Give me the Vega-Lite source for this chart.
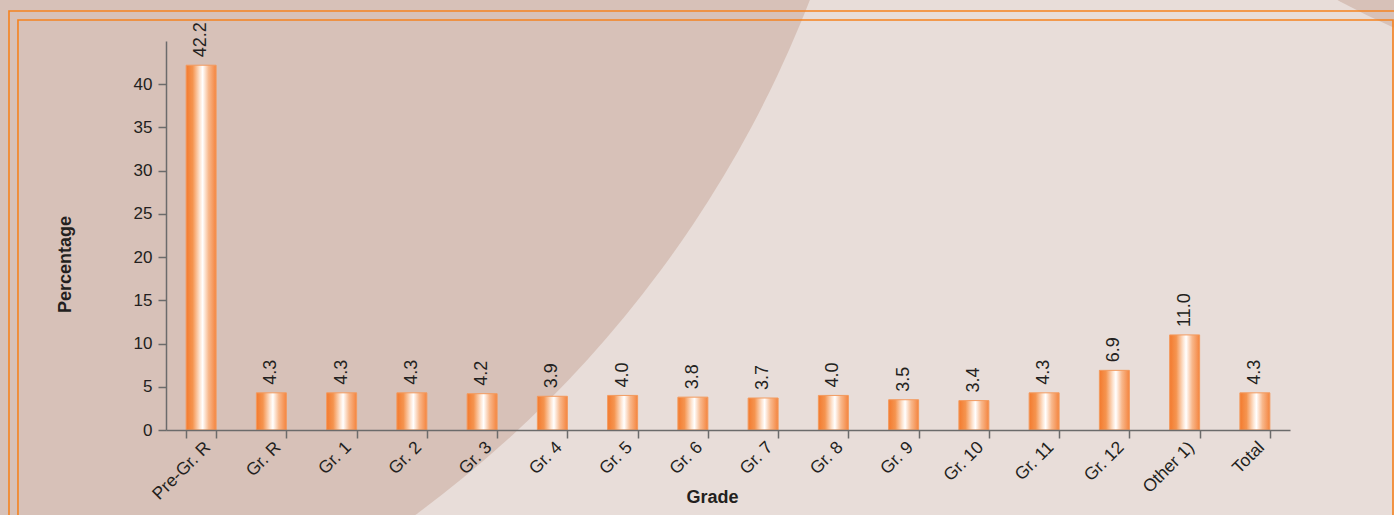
{
  "$schema": "https://vega.github.io/schema/vega-lite/v6.json",
  "autosize": {"type": "none"},
  "width": 1124,
  "height": 389,
  "padding": {"left": 166, "top": 41, "right": 104, "bottom": 85},
  "background": "#e8ddd9",
  "config": {
    "view": {"stroke": null},
    "font": "Liberation Sans",
    "axis": {
      "zindex": 1,
      "domainColor": "#6b6b6b",
      "domainWidth": 1.5,
      "tickColor": "#6b6b6b",
      "tickWidth": 1.5,
      "tickSize": 8,
      "labelFont": "Liberation Sans",
      "labelFontSize": 17,
      "labelColor": "#231f20",
      "titleFont": "Liberation Sans",
      "titleFontSize": 18,
      "titleFontWeight": "bold",
      "titleColor": "#231f20",
      "grid": false
    }
  },
  "resolve": {
    "scale": {"x": "independent", "y": "independent"},
    "axis": {"x": "independent", "y": "independent"}
  },
  "layer": [
    {
      "description": "Large backdrop disc on the left of the page",
      "data": {"values": [{}]},
      "mark": {"type": "point", "shape": "circle", "filled": true, "size": 5400000, "color": "#d7c1b8", "opacity": 1, "strokeWidth": 0},
      "encoding": {
        "x": {"datum": -6.25, "type": "quantitative", "scale": {"domain": [0, 16], "nice": false, "zero": false}, "axis": null},
        "y": {"datum": 98.45, "type": "quantitative", "scale": {"domain": [0, 45], "nice": false, "zero": false}, "axis": null}
      }
    },
    {
      "description": "Small backdrop disc in the top right corner",
      "data": {"values": [{}]},
      "mark": {"type": "point", "shape": "circle", "filled": true, "size": 2560000, "color": "#d7c1b8", "opacity": 1, "strokeWidth": 0},
      "encoding": {
        "x": {"datum": 22.08, "type": "quantitative", "scale": {"domain": [0, 16], "nice": false, "zero": false}, "axis": null},
        "y": {"datum": 131.2, "type": "quantitative", "scale": {"domain": [0, 45], "nice": false, "zero": false}, "axis": null}
      }
    },
    {
      "description": "Outer page frame",
      "data": {"values": [{}]},
      "mark": {"type": "rect", "fill": null, "fillOpacity": 0, "stroke": "#f5821f", "strokeWidth": 1.6},
      "encoding": {
        "x": {"datum": -2.235, "type": "quantitative", "scale": {"domain": [0, 16], "nice": false, "zero": false}, "axis": null},
        "x2": {"datum": 17.59},
        "y": {"datum": 48.47, "type": "quantitative", "scale": {"domain": [0, 45], "nice": false, "zero": false}, "axis": null},
        "y2": {"datum": -10.65}
      }
    },
    {
      "description": "Inner page frame",
      "data": {"values": [{}]},
      "mark": {"type": "rect", "fill": null, "fillOpacity": 0, "stroke": "#f5821f", "strokeWidth": 1.6},
      "encoding": {
        "x": {"datum": -2.107, "type": "quantitative", "scale": {"domain": [0, 16], "nice": false, "zero": false}, "axis": null},
        "x2": {"datum": 17.466},
        "y": {"datum": 47.43, "type": "quantitative", "scale": {"domain": [0, 45], "nice": false, "zero": false}, "axis": null},
        "y2": {"datum": -10.65}
      }
    },
    {
      "data": {
        "values": [
          {"grade": "Pre-Gr. R", "pct": 42.2},
          {"grade": "Gr. R", "pct": 4.3},
          {"grade": "Gr. 1", "pct": 4.3},
          {"grade": "Gr. 2", "pct": 4.3},
          {"grade": "Gr. 3", "pct": 4.2},
          {"grade": "Gr. 4", "pct": 3.9},
          {"grade": "Gr. 5", "pct": 4.0},
          {"grade": "Gr. 6", "pct": 3.8},
          {"grade": "Gr. 7", "pct": 3.7},
          {"grade": "Gr. 8", "pct": 4.0},
          {"grade": "Gr. 9", "pct": 3.5},
          {"grade": "Gr. 10", "pct": 3.4},
          {"grade": "Gr. 11", "pct": 4.3},
          {"grade": "Gr. 12", "pct": 6.9},
          {"grade": "Other 1)", "pct": 11.0},
          {"grade": "Total", "pct": 4.3}
        ]
      },
      "encoding": {
        "x": {
          "field": "grade",
          "type": "nominal",
          "sort": null,
          "title": "Grade",
          "scale": {"paddingInner": 0.573, "paddingOuter": 0.2865},
          "axis": {
            "zindex": 2,
            "labelAngle": -45,
            "labelAlign": "right",
            "labelBaseline": "top",
            "labelPadding": 0,
            "labelFontSize": 17.5,
            "tickBand": "extent",
            "titleX": 546,
            "titleY": 67,
            "titleAlign": "center",
            "titleBaseline": "middle"
          }
        },
        "y": {
          "field": "pct",
          "type": "quantitative",
          "title": "Percentage",
          "scale": {"domain": [0, 45], "nice": false, "zero": true},
          "axis": {
            "zindex": 2,
            "values": [0, 5, 10, 15, 20, 25, 30, 35, 40],
            "labelPadding": 6,
            "titleX": -101,
            "titleY": 223,
            "titleAngle": -90,
            "titleAlign": "center",
            "titleBaseline": "middle"
          }
        }
      },
      "layer": [
        {
          "mark": {
            "type": "bar",
            "stroke": "#f39a5e",
            "strokeWidth": 1,
            "color": {
              "gradient": "linear",
              "x1": 0, "x2": 1, "y1": 0, "y2": 0,
              "stops": [
                {"offset": 0, "color": "#f37a2e"},
                {"offset": 0.22, "color": "#f5944f"},
                {"offset": 0.45, "color": "#fde3cf"},
                {"offset": 0.55, "color": "#ffffff"},
                {"offset": 0.75, "color": "#f8b88c"},
                {"offset": 1, "color": "#f4843e"}
              ]
            }
          }
        },
        {
          "mark": {"type": "text", "angle": 270, "align": "left", "baseline": "middle", "dx": 8, "fontSize": 18, "color": "#231f20"},
          "encoding": {"text": {"field": "pct", "type": "quantitative", "format": ".1f"}}
        }
      ]
    }
  ]
}
